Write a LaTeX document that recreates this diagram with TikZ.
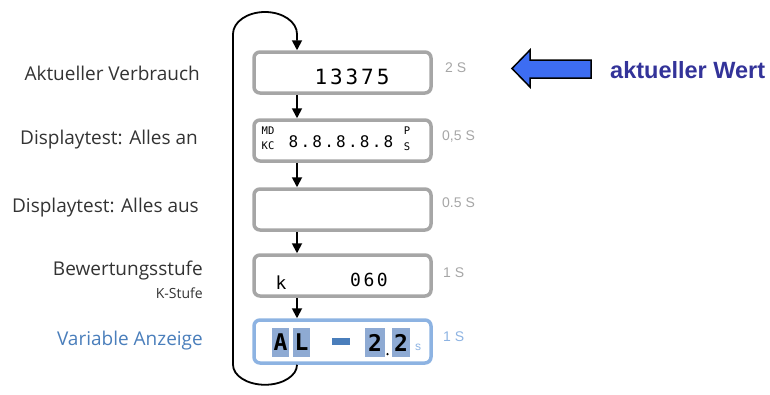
\documentclass[tikz,border=0pt]{standalone}
\usepackage{fontspec}
\setmainfont{Open Sans}
\newfontfamily\lcd[LetterSpace=14]{DejaVu Sans Mono}
\newfontfamily\lcdplain{DejaVu Sans Mono}
\newfontfamily\arial{Liberation Sans}
\usetikzlibrary{arrows.meta}
\definecolor{boxgray}{HTML}{A6A6A6}
\definecolor{boxblue}{HTML}{8DB3E2}
\definecolor{hlblue}{HTML}{8EAAD3}
\definecolor{textblue}{HTML}{4A7EBB}
\definecolor{labelgray}{HTML}{333333}
\definecolor{wertblue}{HTML}{333399}
\definecolor{arrowblue}{HTML}{3D6DF2}
\tikzset{
  dispbox/.style={draw=boxgray, line width=3.5pt, rounded corners=6pt, minimum width=177pt, minimum height=41pt},
  flow/.style={line width=1.8pt, -{Triangle[width=10pt,length=10pt]}},
  lbl/.style={text=labelgray, font=\fontsize{19}{22}\selectfont, anchor=east},
  tlbl/.style={text=boxgray, font=\arial\fontsize{14}{16}\selectfont, anchor=west},
  hl/.style={fill=hlblue, minimum width=17pt, minimum height=29pt}
}

\begin{document}
\begin{tikzpicture}[x=1pt,y=-1pt]
\useasboundingbox (0,0) rectangle (770,394);
\begin{scope}[every node/.style={inner sep=0pt}]
    \node [dispbox] (a) at (342.5,72.5) {};
    \node [dispbox] (b) at (342.5,140.5) {};
    \node [dispbox] (c) at (342.5,209.5) {};
    \node [dispbox] (d) at (342.5,275.5) {};
    \node [dispbox, draw=boxblue, minimum height=43pt] (e) at (342.5,341.5) {};
    \coordinate (ax) at (297,0);

    \node [font=\lcd\fontsize{21}{23}\selectfont] (a1) at (352,77) {13375};

    \node [font=\lcdplain\fontsize{10.5}{12}\selectfont] (b1) at (268,131) {MD};
    \node [font=\lcdplain\fontsize{10.5}{12}\selectfont] (b2) at (268,146) {KC};
    \node [font=\lcd\fontsize{16}{18}\selectfont] (b3) at (341,142) {8.8.8.8.8};
    \node [font=\lcdplain\fontsize{10.5}{12}\selectfont] (b4) at (407,131) {P};
    \node [font=\lcdplain\fontsize{10.5}{12}\selectfont] (b5) at (407,147) {S};

    \node [font=\lcdplain\fontsize{18}{20}\selectfont] (d1) at (281,283) {k};
    \node [font=\lcd\fontsize{18}{20}\selectfont] (d2) at (369,280) {060};

    \node [hl] (e1) at (280.5,342.5) {};
    \node [hl] (e2) at (301.5,342.5) {};
    \node [hl, minimum width=20pt] (e4) at (375,342.5) {};
    \node [hl, minimum width=18pt] (e6) at (401,342.5) {};
    \node [fill=textblue, minimum width=18pt, minimum height=7pt] (e3) at (341,341.5) {};
    \node [font=\lcdplain\bfseries\fontsize{23}{25}\selectfont] at (e1) {A};
    \node [font=\lcdplain\bfseries\fontsize{23}{25}\selectfont] at (e2) {L};
    \node [font=\lcdplain\bfseries\fontsize{23}{25}\selectfont] at (e4) {2};
    \node [font=\lcdplain\bfseries\fontsize{23}{25}\selectfont] at (e6) {2};
    \node [circle, fill=black, minimum size=2.5pt] (e5) at (387.5,354) {};
    \node [text=boxblue, font=\arial\fontsize{12}{14}\selectfont] (e7) at (418,347) {s};

    \draw [flow] (a.south -| ax) -- (b.north -| ax);
    \draw [flow] (b.south -| ax) -- (c.north -| ax);
    \draw [flow] (c.south -| ax) -- (d.north -| ax);
    \draw [flow] (d.south -| ax) -- (e.north -| ax);
    \draw [flow] (e.south -| ax) arc [start angle=0, end angle=180, x radius=32, y radius=20]
        -- (233,34) arc [start angle=180, end angle=360, x radius=32, y radius=22] -- (a.north -| ax);

    \node [lbl] (la) at (200,73) {Aktueller Verbrauch};
    \node [lbl] (lb) at (198,140) {Displaytest: Alles an};
    \node [lbl] (lc) at (199,208) {Displaytest: Alles aus};
    \node [lbl] (ld) at (203,271) {Bewertungsstufe};
    \node [lbl, font=\fontsize{14}{16}\selectfont] (ld2) at (203,293) {K-Stufe};
    \node [lbl, text=textblue] (le) at (203,341) {Variable Anzeige};

    \node [tlbl] (ta) at (445,68) {2 S};
    \node [tlbl] (tb) at (442,137) {0,5 S};
    \node [tlbl] (tc) at (442,203) {0.5 S};
    \node [tlbl] (td) at (443,273) {1 S};
    \node [tlbl, text=boxblue] (te) at (443,337) {1 S};

    \draw [line width=1.5pt, fill=arrowblue, line join=miter] (512,68.5) -- (530,50) -- (530,60) -- (591,60)
        -- (591,78) -- (530,78) -- (530,87) -- cycle;
    \node [anchor=west, text=wertblue, font=\arial\bfseries\fontsize{23.5}{26}\selectfont] (w) at (610,70) {aktueller Wert};
\end{scope}
\end{tikzpicture}
\end{document}
